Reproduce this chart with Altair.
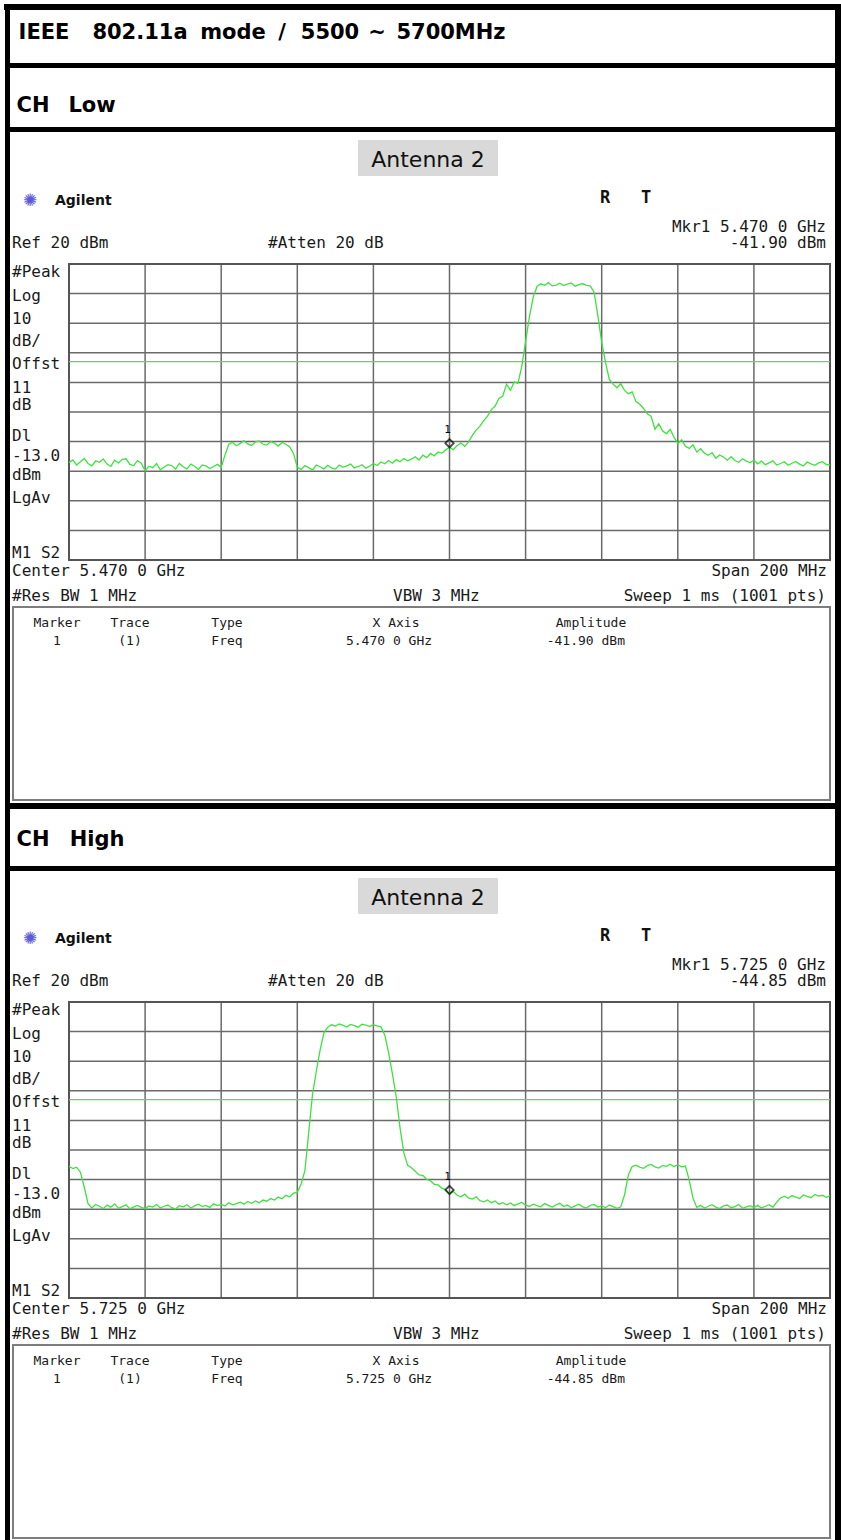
import altair as alt
import pandas as pd

# ---------------- data ----------------
SPAN_MHZ = 200
STEP_MHZ = 1
LOW_START_MHZ = 5370    # Center 5.470 GHz, span 200 MHz
HIGH_START_MHZ = 5625   # Center 5.725 GHz, span 200 MHz
REF_DBM = 20
BOTTOM_DBM = -80
DISPLAY_LINE_DBM = -13.0

LOW_DBM = [
    -47.1, -46.2, -47.9, -46.8, -45.7, -47.4, -48.2, -46.5, -47.0, -45.9,
    -47.6, -48.4, -46.3, -47.2, -46.0, -45.8, -47.7, -48.1, -46.4, -47.3,
    -49.9, -48.3, -48.8, -47.4, -49.5, -48.6, -47.8, -48.1, -49.3, -47.4,
    -48.5, -49.2, -47.6, -48.3, -49.4, -47.9, -48.2, -49.1, -48.4, -47.7,
    -48.7, -44.5, -40.9, -40.2, -41.4, -40.6, -39.7, -40.8, -41.3, -40.1,
    -39.8, -40.9, -41.2, -40.0, -40.5, -41.5, -40.3, -40.9, -41.8, -44.0,
    -48.7, -49.4, -48.1, -48.8, -49.6, -47.9, -48.5, -49.2, -48.0, -48.9,
    -49.3, -47.9, -48.6, -48.2, -47.6, -48.9, -48.4, -47.8, -49.0, -48.3,
    -47.4, -48.1, -46.9, -47.5, -46.4, -47.3, -46.1, -46.8, -45.7, -46.5,
    -45.9, -45.1, -46.2, -44.6, -45.4, -44.0, -44.8, -43.5, -43.9, -42.8,
    -41.9, -42.7, -41.3, -40.5, -41.6, -40.2, -37.9, -36.1, -34.8, -32.9,
    -31.4, -29.2, -28.0, -25.4, -24.6, -20.6, -22.7, -19.8, -20.3, -14.5,
    -6.2, 2.1, 8.8, 12.4, 13.3, 12.8, 13.7, 12.6, 12.9, 13.5,
    12.7, 13.2, 13.6, 12.5, 13.0, 13.4, 12.8, 12.6, 10.5, 2.5,
    -6.5, -13.2, -19.0, -20.6, -21.8, -20.4, -22.7, -23.8, -23.2, -26.5,
    -27.4, -28.8, -30.6, -31.5, -35.8, -34.0, -36.4, -37.3, -35.9, -38.5,
    -40.7, -39.4, -41.6, -42.3, -41.1, -43.5, -42.4, -43.9, -44.6, -43.7,
    -45.6, -44.5, -45.2, -46.3, -45.1, -46.4, -47.0, -45.8, -46.6, -47.1,
    -46.3, -47.5, -46.6, -47.8, -47.2, -46.5, -47.9, -47.4, -46.8, -48.0,
    -47.3, -46.7, -47.6, -48.2, -46.9, -47.5, -48.0, -47.2, -46.8, -47.7,
    -47.9,
]

HIGH_DBM = [
    -35.5, -36.3, -35.8, -37.5, -42.5, -48.1, -49.6, -48.4, -49.0, -49.8,
    -48.6, -49.3, -48.2, -49.7, -49.1, -48.5, -49.9, -49.2, -48.7, -49.4,
    -49.8, -48.9, -49.3, -48.4, -49.6, -49.0, -48.6, -49.5, -49.9, -48.8,
    -49.2, -48.5, -49.6, -48.9, -48.3, -49.1, -48.7, -49.4, -48.2, -48.8,
    -48.4, -48.9, -47.8, -48.5, -48.1, -47.6, -48.3, -47.4, -48.0, -47.2,
    -47.8, -46.9, -47.3, -46.4, -46.9, -45.9, -46.5, -45.3, -45.8, -44.6,
    -44.3, -41.5, -37.0, -24.0, -11.2, -3.4, 3.8, 9.6, 11.5, 12.3,
    11.9, 12.6, 12.1, 11.6, 12.4, 12.0, 11.5, 12.5, 12.2, 11.8,
    12.3, 11.9, 11.6, 8.8, 2.8, -4.3, -12.0, -22.5, -31.0, -35.2,
    -36.0, -37.2, -38.4, -38.6, -39.9, -40.4, -41.6, -41.8, -42.9, -43.4,
    -44.85, -44.0, -45.3, -45.8, -44.9, -46.2, -46.6, -45.8, -47.1, -47.5,
    -46.9, -47.8, -47.2, -48.3, -47.8, -48.5, -47.9, -48.8, -48.2, -47.7,
    -48.6, -49.0, -48.3, -48.8, -49.2, -48.1, -48.7, -49.3, -48.5, -48.0,
    -49.1, -48.6, -49.5, -48.9, -48.3, -49.2, -49.6, -48.7, -48.4, -49.3,
    -48.8, -49.5, -48.6, -49.1, -49.7, -49.2, -45.2, -38.4, -35.6, -35.1,
    -35.8, -36.2, -35.3, -34.9, -35.7, -36.1, -35.2, -35.5, -34.8, -35.6,
    -35.0, -35.7, -35.4, -40.2, -46.3, -49.4, -48.7, -49.6, -49.0, -48.5,
    -49.3, -49.8, -48.9, -48.6, -49.5, -49.1, -48.4, -49.7, -49.2, -48.8,
    -49.4, -48.7, -49.6, -49.0, -48.5, -49.3, -47.6, -46.2, -45.6, -46.3,
    -45.4, -45.9, -46.4, -45.2, -45.7, -46.1, -45.0, -45.6, -45.3, -46.0,
    -45.5,
]

LOW_MARKER = (5470.0, -41.90)
HIGH_MARKER = (5725.0, -44.85)
LOW_TEXT = {"mkr": "Mkr1  5.470 0 GHz", "amp": "-41.90 dBm", "center": "Center 5.470 0 GHz", "xaxis": "5.470 0 GHz"}
HIGH_TEXT = {"mkr": "Mkr1  5.725 0 GHz", "amp": "-44.85 dBm", "center": "Center 5.725 0 GHz", "xaxis": "5.725 0 GHz"}
LEFT_LABELS = ["#Peak", "Log", "10", "dB/", "Offst", "11", "dB", "Dl", "-13.0", "dBm", "LgAv", "M1  S2"]
TITLE_WORDS = ["IEEE", "802.11a", "mode", "/", "5500", "~", "5700MHz"]

# ---------------- layout (pixels) ----------------
W, H = 841, 1540
GX0, GX1 = 69, 830
PANEL_DY = 738
GY0, GY1 = 264, 560
MONO = "DejaVu Sans Mono"
GREEN = "#3ee23e"


def px(rows, align="left", size=16, font=MONO, weight="normal", color="#1a1a1a"):
    df = pd.DataFrame(rows, columns=["t", "px", "py"])
    return alt.Chart(df).mark_text(
        align=align, baseline="middle", fontSize=size, font=font,
        fontWeight=weight, color=color
    ).encode(
        x=alt.X("px:Q", scale=None, axis=None),
        y=alt.Y("py:Q", scale=None, axis=None),
        text="t:N",
    )


def boxes(rows, color="black"):
    df = pd.DataFrame(rows, columns=["x0", "x1", "y0", "y1"])
    return alt.Chart(df).mark_rect(color=color).encode(
        x=alt.X("x0:Q", scale=None, axis=None), x2="x1:Q",
        y=alt.Y("y0:Q", scale=None, axis=None), y2="y1:Q",
    )


def outline(rows, color="#7d7d7d", width=2):
    df = pd.DataFrame(rows, columns=["x0", "x1", "y0", "y1"])
    return alt.Chart(df).mark_rect(fillOpacity=0, stroke=color, strokeWidth=width).encode(
        x=alt.X("x0:Q", scale=None, axis=None), x2="x1:Q",
        y=alt.Y("y0:Q", scale=None, axis=None), y2="y1:Q",
    )


def spectrum(start, values, marker, dy):
    xs = alt.Scale(domain=[start, start + SPAN_MHZ], range=[GX0, GX1])
    ys = alt.Scale(domain=[BOTTOM_DBM, REF_DBM], range=[GY1 + dy, GY0 + dy])
    X = lambda f: alt.X(f, scale=xs, axis=None)
    Y = lambda f: alt.Y(f, scale=ys, axis=None)

    vgrid = pd.DataFrame({"f": [start + k * 20 for k in range(1, 10)]})
    vgrid["lo"], vgrid["hi"] = BOTTOM_DBM, REF_DBM
    hgrid = pd.DataFrame({"db": list(range(BOTTOM_DBM + 10, REF_DBM, 10))})
    hgrid["f"], hgrid["f2"] = start, start + SPAN_MHZ
    frame = pd.DataFrame({"f": [start], "f2": [start + SPAN_MHZ], "lo": [BOTTOM_DBM], "hi": [REF_DBM]})
    dline = pd.DataFrame({"db": [DISPLAY_LINE_DBM], "f": [start], "f2": [start + SPAN_MHZ]})
    trace = pd.DataFrame({"f": [start + i * STEP_MHZ for i in range(len(values))], "db": values})
    mk = pd.DataFrame({"f": [marker[0]], "db": [marker[1]], "lab": ["1"]})

    grid_col = "#6a6a6a"
    layers = [
        alt.Chart(vgrid).mark_rule(color=grid_col, strokeWidth=1.5).encode(x=X("f:Q"), y=Y("lo:Q"), y2="hi:Q"),
        alt.Chart(hgrid).mark_rule(color=grid_col, strokeWidth=1.5).encode(y=Y("db:Q"), x=X("f:Q"), x2="f2:Q"),
        alt.Chart(frame).mark_rect(fillOpacity=0, stroke="#555555", strokeWidth=2).encode(
            x=X("f:Q"), x2="f2:Q", y=Y("lo:Q"), y2="hi:Q"),
        alt.Chart(dline).mark_rule(color="#55dd55", strokeWidth=1.2).encode(y=Y("db:Q"), x=X("f:Q"), x2="f2:Q"),
        alt.Chart(trace).mark_line(color=GREEN, strokeWidth=1.3, interpolate="linear").encode(x=X("f:Q"), y=Y("db:Q")),
        alt.Chart(mk).mark_point(shape="diamond", filled=False, color="black", size=70, strokeWidth=1.8,
                                 yOffset=-4).encode(x=X("f:Q"), y=Y("db:Q")),
        alt.Chart(mk).mark_text(font=MONO, fontSize=11, color="black", dy=-17, dx=-2).encode(
            x=X("f:Q"), y=Y("db:Q"), text="lab:N"),
    ]
    return alt.layer(*layers)


def panel_text(txt, dy):
    left_y = [272, 296, 319, 341, 364, 388, 405, 436, 456, 475, 498, 553]
    layers = [
        boxes([(358, 498, 140 + dy, 176 + dy)], color="#d9d9d9"),
        px([("Antenna  2", 428, 160 + dy)], align="center", size=22, font="DejaVu Sans", color="#111111"),
        px([("\u273a", 30, 201 + dy)], align="center", size=17, font="DejaVu Sans", color="#5b5bd6"),
        px([("Agilent", 55, 201 + dy)], size=14, font="DejaVu Sans", weight="bold", color="#111111"),
        px([("R", 605, 198 + dy), ("T", 646, 198 + dy)], align="center", size=17, weight="bold", color="#111111"),
        px([(txt["mkr"], 826, 227 + dy), (txt["amp"], 826, 243 + dy),
            ("Span 200 MHz", 827, 571 + dy), ("Sweep 1 ms (1001 pts)", 826, 596 + dy)], align="right"),
        px([("Ref 20 dBm", 12, 243 + dy), ("#Atten 20 dB", 268, 243 + dy),
            (txt["center"], 12, 571 + dy), ("#Res BW 1 MHz", 12, 596 + dy),
            ("VBW 3 MHz", 393, 596 + dy)]
           + [(lab, 12, y + dy) for lab, y in zip(LEFT_LABELS, left_y)]),
        outline([(13, 830, 607 + dy, 800 + dy)]),
        px([("Marker", 57, 623 + dy), ("Trace", 130, 623 + dy), ("Type", 227, 623 + dy),
            ("X Axis", 396, 623 + dy), ("Amplitude", 591, 623 + dy),
            ("1", 57, 641 + dy), ("(1)", 130, 641 + dy), ("Freq", 227, 641 + dy),
            (txt["xaxis"], 389, 641 + dy)], align="center", size=13),
        px([(txt["amp"], 625, 641 + dy)], align="right", size=13),
    ]
    return layers


title_cx = [44, 140, 233, 282, 330, 377, 451]
doc_layers = [
    boxes([(4, 841, 4, 10), (5, 10, 4, H), (835, 841, 4, H),
           (5, 841, 63, 68), (5, 841, 127, 132), (5, 841, 803, 809), (5, 841, 866, 871)]),
    px([(w, x, 33) for w, x in zip(TITLE_WORDS, title_cx)], align="center", size=21,
       font="DejaVu Sans", weight="bold", color="black"),
    px([("CH", 33, 106), ("Low", 92, 106)], align="center", size=21, font="DejaVu Sans", weight="bold", color="black"),
    px([("CH", 33, 840), ("High", 97, 840)], align="center", size=21, font="DejaVu Sans", weight="bold", color="black"),
]

all_layers = (
    doc_layers
    + panel_text(LOW_TEXT, 0)
    + panel_text(HIGH_TEXT, PANEL_DY)
    + [spectrum(LOW_START_MHZ, LOW_DBM, LOW_MARKER, 0),
       spectrum(HIGH_START_MHZ, HIGH_DBM, HIGH_MARKER, PANEL_DY)]
)

chart = alt.layer(*all_layers).resolve_scale(x="independent", y="independent").properties(
    width=W, height=H, autosize="none", padding=0, background="white"
).configure_view(stroke="transparent")

chart.save("out.html", embed_options={"renderer": "svg", "actions": False})
